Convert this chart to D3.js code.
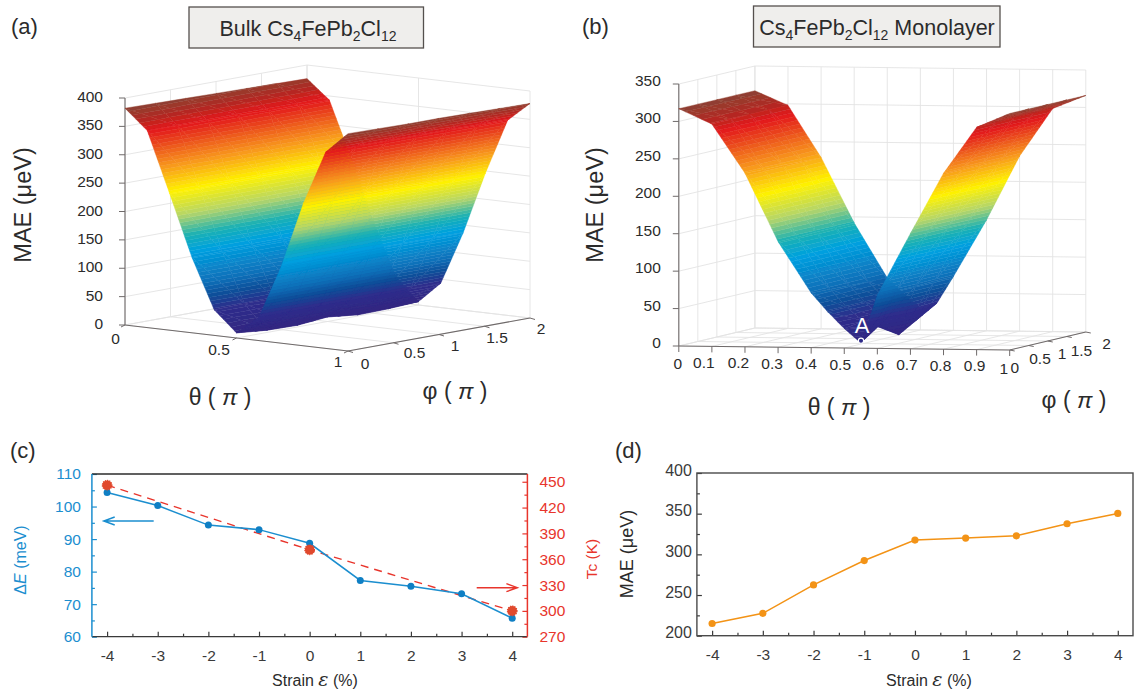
<!DOCTYPE html>
<html>
<head>
<meta charset="utf-8">
<script src="https://cdn.jsdelivr.net/npm/d3@7"></script>
<style>
  body { margin: 0; background: #fff; }
  text { font-family: "Liberation Sans", Arial, sans-serif; fill: #2b2b2b; }
</style>
</head>
<body>
<svg id="fig" width="1134" height="691"></svg>
<script>
// (a) bulk surface: rows are phi, columns are theta
const bulkTheta = [0, 0.1, 0.2, 0.3, 0.4, 0.5, 0.6, 0.7, 0.8, 0.9, 1];
const bulkPhi = [0, 1 / 3, 2 / 3, 1, 4 / 3, 5 / 3, 2];
const bulkMae = [
  [382, 347, 241, 133, 45, 9, 41, 134, 251, 346, 383],
  [381, 346, 241, 134, 46, 4, 41, 135, 250, 346, 382],
  [380, 345, 242, 134, 46, 3, 42, 135, 249, 345, 381],
  [379, 345, 242, 135, 45, 8, 42, 136, 249, 345, 381],
  [378, 344, 242, 135, 45, 2, 42, 136, 248, 345, 380],
  [377, 344, 243, 135, 45, 3, 43, 136, 247, 344, 379],
  [376, 343, 243, 135, 45, 6, 43, 136, 246, 344, 378],
];

// (b) monolayer surface
const monoTheta = [0, 0.1, 0.2, 0.3, 0.4, 0.45, 0.5, 0.55, 0.6, 0.7, 0.8, 0.9, 1];
const monoPhi = [0, 0.5, 1, 1.5, 2];
const monoMae = [
  [317, 297, 232, 141, 73, 48, 26, 7, 71, 154, 235, 297, 316],
  [317, 297, 231, 141, 72, 48, 30, 25, 71, 153, 235, 297, 316],
  [317, 298, 231, 142, 71, 48, 28, 6, 71, 151, 235, 298, 316],
  [317, 298, 230, 142, 70, 48, 30, 21, 72, 150, 234, 298, 316],
  [317, 298, 229, 142, 69, 48, 30, 36, 72, 148, 234, 298, 316],
];

// (c) and (d)
const strain = [-4, -3, -2, -1, 0, 1, 2, 3, 4];
const deltaE = [104.3, 100.3, 94.3, 92.9, 88.7, 77.3, 75.5, 73.2, 65.7];
const tcStrain = [-4, 0, 4];
const tcValues = [446, 371, 300];
const maeStrain = [215, 227.5, 262.4, 292.4, 317.5, 320, 322.8, 337.6, 350.3];

// surface colormap, position as a fraction of the top of the surface
const mapStops = [0, 0.08, 0.12, 0.18, 0.235, 0.37, 0.44, 0.53, 0.635, 0.75, 0.905, 0.95, 1];
const mapColors = ["#33267f", "#2f2a88", "#2e2e8c", "#0b4f9a", "#0f6fb8", "#00a0e0", "#17b0b5",
  "#b5d56a", "#fff200", "#f7941d", "#e2161b", "#b02a22", "#8a4232"];
const mapColor = d3.scaleLinear().domain(mapStops).range(mapColors);

const svg = d3.select("#fig");
const gridColor = "#e3e3e3";
const axisColor = "#6f6a6a";

// slight softening so cell seams do not show on the surfaces
svg.append("defs").append("filter")
  .attr("id", "soft")
  .attr("x", "-2%").attr("y", "-2%").attr("width", "104%").attr("height", "104%")
  .append("feGaussianBlur").attr("stdDeviation", 0.55);

const makeProjection = (p) => {
  const thetaX = d3.scaleLinear().domain([0, 1]).range([p.origin[0], p.thetaEnd[0]]);
  const thetaY = d3.scaleLinear().domain([0, 1]).range([p.origin[1], p.thetaEnd[1]]);
  const phiX = d3.scaleLinear().domain([0, 2]).range([0, p.phiEnd[0] - p.thetaEnd[0]]);
  const phiY = d3.scaleLinear().domain([0, 2]).range([0, p.phiEnd[1] - p.thetaEnd[1]]);
  const zY = d3.scaleLinear().domain([0, p.zMax]).range([0, p.zTop]);
  return (theta, phi, z = 0) => [thetaX(theta) + phiX(phi), thetaY(theta) + phiY(phi) - zY(z)];
};

// cut a polygon of [x, y, z] corners at one z level
const clipZ = (poly, level, above) => {
  const out = [];
  poly.forEach((a, i) => {
    const b = poly[(i + 1) % poly.length];
    const aIn = above ? a[2] >= level : a[2] <= level;
    const bIn = above ? b[2] >= level : b[2] <= level;
    if (aIn) out.push(a);
    if (aIn !== bIn) {
      const t = (level - a[2]) / (b[2] - a[2]);
      out.push([a[0] + t * (b[0] - a[0]), a[1] + t * (b[1] - a[1]), level]);
    }
  });
  return out;
};

const polyLine = d3.line();

const drawSurface = (parent, project, thetas, phis, mae, zPeak) => {
  const g = parent.append("g").attr("filter", "url(#soft)");
  const bands = 64;
  const bandStep = zPeak / bands;
  const corner = (i, j) => {
    const xy = project(thetas[i], phis[j], mae[j][i]);
    return [xy[0], xy[1], mae[j][i]];
  };
  const fillTriangle = (tri) => {
    const lo = Math.max(0, Math.floor(d3.min(tri, (d) => d[2]) / bandStep));
    const hi = Math.min(bands - 1, Math.floor(d3.max(tri, (d) => d[2]) / bandStep));
    for (let k = lo; k <= hi; k++) {
      let piece = clipZ(tri, k * bandStep, true);
      piece = clipZ(piece, (k + 1) * bandStep, false);
      if (piece.length < 3) continue;
      const col = mapColor((k + 0.5) / bands);
      g.append("path")
        .attr("d", polyLine(piece.map((d) => [d[0], d[1]])) + "Z")
        .attr("fill", col)
        .attr("stroke", col)
        .attr("stroke-width", 0.4);
    }
  };
  // far cells first: theta grows and phi shrinks towards the viewer
  for (let i = 0; i < thetas.length - 1; i++) {
    for (let j = phis.length - 2; j >= 0; j--) {
      fillTriangle([corner(i, j), corner(i, j + 1), corner(i + 1, j + 1)]);
      fillTriangle([corner(i, j), corner(i + 1, j + 1), corner(i + 1, j)]);
    }
  }
};

const drawBox = (g, project, p) => {
  const seg = (a, b, color, width) => {
    g.append("line")
      .attr("x1", a[0]).attr("y1", a[1])
      .attr("x2", b[0]).attr("y2", b[1])
      .attr("stroke", color)
      .attr("stroke-width", width);
  };
  // back walls and floor
  p.zTicks.forEach((z) => {
    seg(project(0, 0, z), project(0, 2, z), gridColor, 0.9);
    seg(project(0, 2, z), project(1, 2, z), gridColor, 0.9);
  });
  p.phiTicks.forEach((ph) => {
    seg(project(0, ph, 0), project(1, ph, 0), gridColor, 0.9);
    seg(project(0, ph, 0), project(0, ph, p.zMax), gridColor, 0.9);
  });
  p.thetaTicks.forEach((th) => {
    seg(project(th, 0, 0), project(th, 2, 0), gridColor, 0.9);
    seg(project(th, 2, 0), project(th, 2, p.zMax), gridColor, 0.9);
  });
  // axes
  seg(project(0, 0, 0), project(0, 0, p.zMax), axisColor, 1.1);
  seg(project(0, 0, 0), project(1, 0, 0), axisColor, 1.1);
  seg(project(1, 0, 0), project(1, 2, 0), axisColor, 1.1);
  p.zTicks.forEach((z) => {
    const a = project(0, 0, z);
    seg(a, [a[0] - 6, a[1]], axisColor, 1);
    g.append("text")
      .attr("x", a[0] + p.zLabelDx).attr("y", a[1] + p.zLabelDy)
      .attr("text-anchor", "end").attr("font-size", 15.5)
      .text(z);
  });
  p.thetaTicks.forEach((th, i) => {
    const a = project(th, 0, 0);
    seg(a, [a[0] + p.thetaTick[0], a[1] + p.thetaTick[1]], axisColor, 1);
    const off = p.thetaLabelOff[i % p.thetaLabelOff.length];
    g.append("text")
      .attr("x", a[0] + off[0]).attr("y", a[1] + off[1] + 5.5)
      .attr("text-anchor", "middle").attr("font-size", 15.5)
      .text(th);
  });
  p.phiTicks.forEach((ph, i) => {
    const a = project(1, ph, 0);
    seg(a, [a[0] + p.phiTick[0], a[1] + p.phiTick[1]], axisColor, 1);
    const off = p.phiLabelOff[i];
    g.append("text")
      .attr("x", a[0] + off[0]).attr("y", a[1] + off[1] + 5.5)
      .attr("text-anchor", "middle").attr("font-size", 15.5)
      .text(ph);
  });
};

const greekLabel = (x, y, letter) => {
  const t = svg.append("text")
    .attr("x", x).attr("y", y)
    .attr("text-anchor", "middle").attr("font-size", 23);
  t.append("tspan").text(letter + " ( ");
  t.append("tspan").attr("font-style", "italic").text("π");
  t.append("tspan").text(" )");
};

const panelLabel = (x, y, s) => {
  svg.append("text").attr("x", x).attr("y", y).attr("font-size", 22).text(s);
};

const yLabel = (x, y, s, size, color) => {
  return svg.append("text")
    .attr("transform", `translate(${x},${y}) rotate(-90)`)
    .attr("text-anchor", "middle")
    .attr("font-size", size)
    .style("fill", color || "#2b2b2b")
    .text(s);
};

const titleBox = (x0, y0, x1, y1, cx, parts) => {
  svg.append("rect")
    .attr("x", x0).attr("y", y0)
    .attr("width", x1 - x0).attr("height", y1 - y0)
    .attr("fill", "#efeeec")
    .attr("stroke", "#55504e")
    .attr("stroke-width", 1.3);
  const t = svg.append("text")
    .attr("x", cx).attr("y", y0 + 29)
    .attr("text-anchor", "middle").attr("font-size", 21.5);
  let wasSub = false;
  parts.forEach(([s, sub]) => {
    t.append("tspan")
      .attr("dy", sub && !wasSub ? 5 : !sub && wasSub ? -5 : 0)
      .attr("font-size", sub ? 14 : 21.5)
      .text(s);
    wasSub = sub;
  });
};

// panel (a)
const bulkBox = {
  origin: [125, 325], thetaEnd: [348, 351], phiEnd: [530, 318],
  zMax: 400, zTop: 227,
  zTicks: d3.range(0, 401, 50), thetaTicks: [0, 0.5, 1], phiTicks: [0, 0.5, 1, 1.5, 2],
  zLabelDx: -22, zLabelDy: 4,
  thetaTick: [-4, 2], phiTick: [5, 1.5],
  thetaLabelOff: [[-9.4, 13], [-17.5, 11], [-10, 10]],
  phiLabelOff: [[17, 12], [21, 10], [16, 10.5], [12.5, 11], [11, 10]],
};
const bulkProject = makeProjection(bulkBox);
const bulkG = svg.append("g");
drawBox(bulkG, bulkProject, bulkBox);
drawSurface(bulkG, bulkProject, bulkTheta, bulkPhi, bulkMae, 383);

titleBox(189, 7, 423.5, 48, 308, [["Bulk Cs"], ["4", 1], ["FePb"], ["2", 1], ["Cl"], ["12", 1]]);
panelLabel(11, 34, "(a)");
yLabel(31, 205, "MAE (μeV)", 23.5);
greekLabel(220, 405, "θ");
greekLabel(455, 399, "φ");

// panel (b)
const monoBox = {
  origin: [678.8, 346], thetaEnd: [1009.7, 350], phiEnd: [1085.8, 332],
  zMax: 350, zTop: 262,
  zTicks: d3.range(0, 351, 50), thetaTicks: d3.range(0, 11).map((d) => d / 10), phiTicks: [0, 0.5, 1, 1.5, 2],
  zLabelDx: -18, zLabelDy: 2,
  thetaTick: [0, 6], phiTick: [5, 1],
  thetaLabelOff: [[-1, 17], [-8, 16], [-6.5, 16], [-6, 16], [-5, 16], [-4, 16], [-4, 16], [-3.5, 16], [-3, 16], [-2, 16], [-6, 18]],
  phiLabelOff: [[5, 17], [11.3, 12.5], [14.3, 12], [14.7, 13.5], [20.8, 11]],
};
const monoProject = makeProjection(monoBox);
const monoG = svg.append("g");
drawBox(monoG, monoProject, monoBox);
drawSurface(monoG, monoProject, monoTheta, monoPhi, monoMae, 318);

svg.append("text").attr("x", 862).attr("y", 333)
  .attr("text-anchor", "middle").attr("font-size", 22)
  .style("fill", "#fff").text("A");
svg.append("circle").attr("cx", 861).attr("cy", 340.7).attr("r", 2.6)
  .attr("fill", "#2e2a88").attr("stroke", "#fff").attr("stroke-width", 1.1);

titleBox(753.5, 6, 1000, 47, 877, [["Cs"], ["4", 1], ["FePb"], ["2", 1], ["Cl"], ["12", 1], [" Monolayer"]]);
panelLabel(582, 34, "(b)");
yLabel(603, 205, "MAE (μeV)", 23.5);
greekLabel(839, 415, "θ");
greekLabel(1074, 408, "φ");

const strainLabel = (x, y) => {
  const t = svg.append("text")
    .attr("x", x).attr("y", y)
    .attr("text-anchor", "middle").attr("font-size", 16);
  t.append("tspan").text("Strain ");
  t.append("tspan").attr("font-style", "italic").attr("font-family", "'DejaVu Serif', serif").attr("font-size", 19).text("ε");
  t.append("tspan").text(" (%)");
};

const styleAxis = (sel, color, size) => {
  sel.selectAll("path").remove();
  sel.selectAll("line").attr("stroke", color).attr("stroke-width", 1.2);
  sel.selectAll("text").attr("font-size", size).style("fill", color).style("font-family", '"Liberation Sans", Arial, sans-serif');
};

const plainNumber = (d) => String(d);

// panel (c)
const cBox = { left: 91.9, right: 527.4, top: 474, bottom: 636.7 };
const cBlue = "#1b8ecf";
const cRed = "#e8352c";
const cX = d3.scaleLinear().domain([-4.3, 4.3]).range([cBox.left, cBox.right]);
const cY = d3.scaleLinear().domain([60, 110]).range([cBox.bottom, cBox.top]);
const cTc = d3.scaleLinear().domain([270, 459]).range([cBox.bottom, cBox.top]);

const cG = svg.append("g");
cG.append("g").attr("transform", `translate(0,${cBox.bottom})`)
  .call(d3.axisBottom(cX).tickValues(strain).tickSizeInner(-5).tickSizeOuter(0).tickPadding(13).tickFormat(plainNumber))
  .call(styleAxis, "#3a3a3a", 15.5);
cG.append("g").attr("transform", `translate(0,${cBox.bottom})`)
  .call(d3.axisBottom(cX).tickValues(d3.range(-3.5, 4, 1)).tickSizeInner(-3).tickSizeOuter(0).tickFormat(""))
  .call(styleAxis, "#3a3a3a", 15.5);
cG.append("g").attr("transform", `translate(${cBox.left},0)`)
  .call(d3.axisLeft(cY).tickValues(d3.range(60, 111, 10)).tickSizeInner(-5).tickSizeOuter(0).tickPadding(11))
  .call(styleAxis, cBlue, 15.5);
cG.append("g").attr("transform", `translate(${cBox.left},0)`)
  .call(d3.axisLeft(cY).tickValues(d3.range(65, 110, 10)).tickSizeInner(-3).tickSizeOuter(0).tickFormat(""))
  .call(styleAxis, cBlue, 15.5);
cG.append("g").attr("transform", `translate(${cBox.right},0)`)
  .call(d3.axisRight(cTc).tickValues(d3.range(270, 451, 30)).tickSizeInner(-5).tickSizeOuter(0).tickPadding(12))
  .call(styleAxis, cRed, 15.5);
cG.append("g").attr("transform", `translate(${cBox.right},0)`)
  .call(d3.axisRight(cTc).tickValues(d3.range(285, 459, 30)).tickSizeInner(-3).tickSizeOuter(0).tickFormat(""))
  .call(styleAxis, cRed, 15.5);

const hLine = (g, x1, x2, y, color, w) => g.append("line")
  .attr("x1", x1).attr("x2", x2).attr("y1", y).attr("y2", y)
  .attr("stroke", color).attr("stroke-width", w);
const vLine = (g, x, y1, y2, color, w) => g.append("line")
  .attr("x1", x).attr("x2", x).attr("y1", y1).attr("y2", y2)
  .attr("stroke", color).attr("stroke-width", w);

hLine(cG, cBox.left, cBox.right, cBox.top, "#2b2b2b", 1.3);
hLine(cG, cBox.left, cBox.right, cBox.bottom, "#3a3a3a", 1.3);
vLine(cG, cBox.left, cBox.top, cBox.bottom, cBlue, 1.5);
vLine(cG, cBox.right, cBox.top, cBox.bottom, cRed, 1.5);

cG.append("path").datum(tcStrain)
  .attr("fill", "none").attr("stroke", cRed).attr("stroke-width", 1.4).attr("stroke-dasharray", "8,6")
  .attr("d", d3.line().x((d) => cX(d)).y((d, i) => cTc(tcValues[i])));
cG.append("path").datum(strain)
  .attr("fill", "none").attr("stroke", cBlue).attr("stroke-width", 1.5)
  .attr("d", d3.line().x((d) => cX(d)).y((d, i) => cY(deltaE[i])));
cG.selectAll("circle.blue").data(strain).enter().append("circle")
  .attr("class", "blue")
  .attr("cx", (d) => cX(d)).attr("cy", (d, i) => cY(deltaE[i]))
  .attr("r", 3.5).attr("fill", "#0f7fc4");
cG.selectAll("circle.red").data(tcStrain).enter().append("circle")
  .attr("class", "red")
  .attr("cx", (d) => cX(d)).attr("cy", (d, i) => cTc(tcValues[i]))
  .attr("r", 4.8).attr("fill", "#e0492d")
  .attr("stroke", "#e0492d").attr("stroke-width", 1.2).attr("stroke-dasharray", "1.2,1");

const arrow = (x1, x2, y, color) => {
  const dir = x2 > x1 ? 1 : -1;
  cG.append("path")
    .attr("fill", "none").attr("stroke", color).attr("stroke-width", 1.4)
    .attr("d", `M${x1},${y}L${x2},${y}M${x2 - dir * 11},${y - 4}L${x2},${y}L${x2 - dir * 11},${y + 4}`);
};
arrow(153.7, 103.7, 521, cBlue);
arrow(476.7, 517.4, 587.7, cRed);

panelLabel(10, 458, "(c)");
const deltaLabel = yLabel(26, 560, "", 16, cBlue);
deltaLabel.append("tspan").text("Δ").style("fill", cBlue);
deltaLabel.append("tspan").text("E").attr("font-style", "italic").style("fill", cBlue);
deltaLabel.append("tspan").text(" (meV)").style("fill", cBlue);
yLabel(597, 559, "Tc (K)", 15.5, cRed);
strainLabel(315, 686);

// panel (d)
const dBox = { left: 696.9, right: 1133, top: 473, bottom: 635.7 };
const dOrange = "#f39316";
const dX = d3.scaleLinear().domain([-4.3, 4.3]).range([dBox.left, dBox.right]);
const dY = d3.scaleLinear().domain([200, 400]).range([dBox.bottom, dBox.top]);

const dG = svg.append("g");
dG.append("g").attr("transform", `translate(0,${dBox.bottom})`)
  .call(d3.axisBottom(dX).tickValues(strain).tickSizeInner(-5).tickSizeOuter(0).tickPadding(13).tickFormat(plainNumber))
  .call(styleAxis, "#3a3a3a", 15.5);
dG.append("g").attr("transform", `translate(0,${dBox.bottom})`)
  .call(d3.axisBottom(dX).tickValues(d3.range(-3.5, 4, 1)).tickSizeInner(-3).tickSizeOuter(0).tickFormat(""))
  .call(styleAxis, "#3a3a3a", 15.5);
dG.append("g").attr("class", "d-left").attr("transform", `translate(${dBox.left},0)`)
  .call(d3.axisLeft(dY).tickValues(d3.range(200, 401, 50)).tickSizeInner(-5).tickSizeOuter(0).tickPadding(5))
  .call(styleAxis, "#3a3a3a", 16);
dG.select(".d-left").selectAll("text").attr("y", -3);
dG.append("g").attr("transform", `translate(${dBox.left},0)`)
  .call(d3.axisLeft(dY).tickValues(d3.range(225, 400, 50)).tickSizeInner(-3).tickSizeOuter(0).tickFormat(""))
  .call(styleAxis, "#3a3a3a", 16);
dG.append("rect")
  .attr("x", dBox.left).attr("y", dBox.top)
  .attr("width", dBox.right - dBox.left).attr("height", dBox.bottom - dBox.top)
  .attr("fill", "none").attr("stroke", "#4a4a4a").attr("stroke-width", 1.4);
dG.append("path").datum(strain)
  .attr("fill", "none").attr("stroke", dOrange).attr("stroke-width", 1.5)
  .attr("d", d3.line().x((d) => dX(d)).y((d, i) => dY(maeStrain[i])));
dG.selectAll("circle").data(strain).enter().append("circle")
  .attr("cx", (d) => dX(d)).attr("cy", (d, i) => dY(maeStrain[i]))
  .attr("r", 3.6).attr("fill", dOrange);

panelLabel(615, 458, "(d)");
yLabel(633, 554, "MAE (μeV)", 18);
strainLabel(929, 686);
</script>
</body>
</html>
